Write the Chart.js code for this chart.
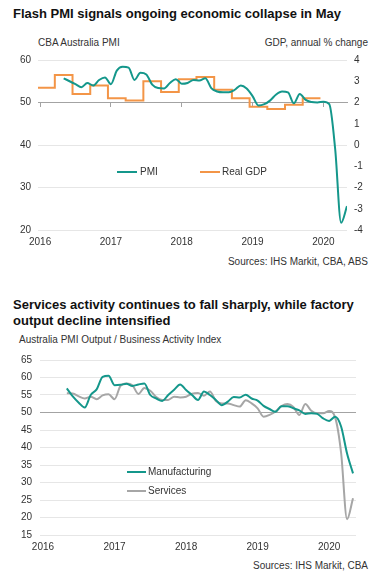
<!DOCTYPE html>
<html><head><meta charset="utf-8">
<script src="https://cdn.jsdelivr.net/npm/chart.js@4.4.1/dist/chart.umd.min.js"></script>
<style>
html,body{margin:0;padding:0;background:#fff;}
body{width:382px;height:582px;position:relative;overflow:hidden;font-family:"Liberation Sans",Arial,sans-serif;color:#333;}
.t{position:absolute;white-space:nowrap;line-height:1;}
.title{font-weight:bold;font-size:13px;color:#111;left:13px;}
.small{font-size:10px;color:#333;}
canvas{position:absolute;left:0;}
.leg{position:absolute;font-size:10px;line-height:1;height:10px;color:#333;display:flex;align-items:center;white-space:nowrap;}
.leg i{display:inline-block;height:2px;margin-right:3px;}
</style></head><body>
<div class="t title" style="top:7px">Flash PMI signals ongoing economic collapse in May</div>
<div class="t small" style="left:38px;top:38px">CBA Australia PMI</div>
<div class="t small" style="right:14px;top:38px">GDP, annual % change</div>
<canvas id="c1" width="382" height="215" style="top:40px"></canvas>
<div class="t small" style="right:14px;top:257px">Sources: IHS Markit, CBA, ABS</div>

<div class="t title" style="top:297px;line-height:15.5px">Services activity continues to fall sharply, while factory<br>output decline intensified</div>
<div class="t small" style="left:19px;top:335px">Australia PMI Output / Business Activity Index</div>
<canvas id="c2" width="382" height="215" style="top:345px"></canvas>
<div class="t small" style="right:14px;top:561px">Sources: IHS Markit, CBA</div>

<script>
// ---------- data ----------
const years = ['2016', '2017', '2018', '2019', '2020'];
const firstYear = 2016;

const pmiStartMonth = '2016-05';
const compositePMI = [55.7, 55.0, 54.3, 53.6, 54.6, 54.0, 55.3, 55.9, 54.3, 57.5, 58.4, 58.2,
  55.3, 57.0, 56.6, 54.2, 53.4, 53.3, 54.6, 55.5, 54.4, 54.6, 55.3, 55.2,
  55.7, 53.4, 52.6, 52.4, 52.4, 53.0, 54.0, 53.3, 51.5, 49.3, 49.6, 50.5,
  51.9, 52.6, 52.4, 49.8, 52.0, 50.6, 50.1, 50.0, 50.2, 49.6, 39.0, 21.7, 25.6];

const gdpQuarters = ['2016Q1', '2016Q2', '2016Q3', '2016Q4', '2017Q1', '2017Q2', '2017Q3', '2017Q4',
  '2018Q1', '2018Q2', '2018Q3', '2018Q4', '2019Q1', '2019Q2', '2019Q3', '2019Q4'];
const realGDP = [2.7, 3.3, 2.4, 2.8, 2.2, 2.1, 3.0, 2.5, 3.1, 3.2, 2.6, 2.2, 1.8, 1.7, 1.9, 2.2];

const outputStartMonth = '2016-05';
const manufacturing = [56.9, 54.6, 52.8, 51.4, 55.0, 56.6, 60.2, 60.5, 57.8, 57.9, 58.2, 57.6,
  58.0, 58.3, 55.0, 54.0, 53.3, 55.0, 56.5, 58.0, 56.4, 55.0, 53.6, 56.0,
  55.0, 53.6, 52.1, 53.1, 54.4, 54.3, 55.1, 54.0, 53.4, 51.9, 51.0, 50.2,
  51.8, 51.8, 51.2, 50.6, 49.6, 49.8, 49.6, 48.3, 47.6, 48.8, 46.0, 38.3, 32.6];
const services = [55.5, 55.4, 54.6, 54.0, 54.5, 53.8, 54.9, 55.2, 53.8, 57.6, 58.3, 57.8,
  55.3, 57.0, 56.2, 54.4, 53.6, 53.6, 54.5, 54.3, 54.5, 55.4, 55.6, 54.8,
  56.0, 53.3, 52.6, 52.6, 52.1, 51.7, 53.5, 52.6, 51.2, 48.8, 49.3, 50.3,
  51.8, 52.4, 51.6, 49.3, 52.4, 50.5, 49.8, 49.8, 50.4, 48.6, 38.5, 19.5, 25.5];

// ---------- helpers ----------
const TEAL = '#14978b', ORANGE = '#f39547', GREY = '#a6a6a6';
const GRID = '#e6e6e6', AXIS = '#a3a3a3', TXT = '#333333';
const FONT = {family: '"Liberation Sans", Arial, sans-serif', size: 10};

function monthIndex(s) { const [y, m] = s.split('-').map(Number); return (y - firstYear) * 12 + (m - 1); }
function monthlyPoints(start, arr) { const s = monthIndex(start); return arr.map((v, i) => ({x: s + i, y: v})); }
function quarterSteps(qs, arr) {
  const pts = qs.map((q, i) => {
    const y = +q.slice(0, 4), n = +q.slice(5);
    return {x: (y - firstYear) * 12 + (n - 1) * 3 - 0.5, y: arr[i]};
  });
  const last = pts[pts.length - 1];
  pts.push({x: last.x + 3, y: last.y});
  return pts;
}
function yearTicks(scale) { scale.ticks = years.map(y => ({value: (+y - firstYear) * 12})); }
const yearLabel = (v, i) => years[i];

function htmlLegend(chart, places) {
  chart.data.datasets.forEach((ds, i) => {
    const d = document.createElement('div');
    d.className = 'leg';
    d.style.left = places[i].left + 'px';
    d.style.top = places[i].top + 'px';
    const sw = document.createElement('i');
    sw.style.background = ds.borderColor;
    sw.style.width = places[i].w + 'px';
    sw.style.marginRight = places[i].gap + 'px';
    d.appendChild(sw);
    d.appendChild(document.createTextNode(ds.label));
    document.body.appendChild(d);
  });
}

Chart.defaults.font = FONT;
Chart.defaults.color = TXT;

// ---------- chart 1 ----------
const c1 = new Chart(document.getElementById('c1'), {
  type: 'line',
  data: {datasets: [
    {label: 'PMI', data: monthlyPoints(pmiStartMonth, compositePMI), borderColor: TEAL, borderWidth: 2,
      pointRadius: 0, cubicInterpolationMode: 'monotone', xAxisID: 'x', yAxisID: 'y'},
    {label: 'Real GDP', data: quarterSteps(gdpQuarters, realGDP), borderColor: ORANGE, borderWidth: 2,
      pointRadius: 0, stepped: 'before', xAxisID: 'x', yAxisID: 'y1'}
  ]},
  options: {
    responsive: false, animation: false, events: [],
    layout: {padding: {top: 20, left: 0, right: 0, bottom: 0}},
    plugins: {legend: {display: false}, tooltip: {enabled: false}},
    scales: {
      x: {type: 'linear', min: -0.35, max: 52, position: {y: 50}, afterBuildTicks: yearTicks,
        ticks: {display: false},
        grid: {drawOnChartArea: false, drawTicks: true, tickLength: 4, color: AXIS},
        border: {display: true, color: AXIS, width: 1}},
      xl: {type: 'linear', axis: 'x', min: -0.35, max: 52, position: 'bottom', afterBuildTicks: yearTicks,
        ticks: {callback: yearLabel, padding: 6, maxRotation: 0, autoSkip: false},
        grid: {display: false, drawTicks: false}, border: {display: false},
        afterFit: s => { s.height = 25; }},
      y: {type: 'linear', position: 'left', min: 20, max: 60,
        ticks: {stepSize: 10, padding: 7},
        grid: {color: c => c.tick && c.tick.value === 50 ? 'rgba(0,0,0,0)' : GRID, drawTicks: false},
        border: {display: false}, afterFit: s => { s.width = 38; }},
      y1: {type: 'linear', position: 'right', min: -4, max: 4,
        ticks: {stepSize: 1, padding: 7},
        grid: {display: false, drawTicks: false}, border: {display: false},
        afterFit: s => { s.width = 35; }}
    }
  }
});
htmlLegend(c1, [{left: 117, top: 167, w: 20, gap: 3}, {left: 200, top: 167, w: 20, gap: 2}]);

// ---------- chart 2 ----------
const c2 = new Chart(document.getElementById('c2'), {
  type: 'line',
  data: {datasets: [
    {label: 'Manufacturing', data: monthlyPoints(outputStartMonth, manufacturing), borderColor: TEAL, borderWidth: 2,
      pointRadius: 0, cubicInterpolationMode: 'monotone'},
    {label: 'Services', data: monthlyPoints(outputStartMonth, services), borderColor: GREY, borderWidth: 2,
      pointRadius: 0, cubicInterpolationMode: 'monotone'}
  ]},
  options: {
    responsive: false, animation: false, events: [],
    layout: {padding: {top: 15, left: 0, right: 26, bottom: 0}},
    plugins: {legend: {display: false}, tooltip: {enabled: false}},
    scales: {
      x: {type: 'linear', min: -0.5, max: 52.5, afterBuildTicks: yearTicks,
        ticks: {callback: yearLabel, padding: 6, maxRotation: 0, autoSkip: false},
        grid: {display: false, drawTicks: false}, border: {display: false},
        afterFit: s => { s.height = 25; }},
      y: {type: 'linear', min: 15, max: 65,
        ticks: {stepSize: 5, padding: 8},
        grid: {color: c => c.tick && c.tick.value === 50 ? AXIS : GRID, drawTicks: false},
        border: {display: false}, afterFit: s => { s.width = 40; }}
    }
  }
});
htmlLegend(c2, [{left: 127, top: 467, w: 19, gap: 2}, {left: 127, top: 486, w: 19, gap: 2}]);
</script>
</body></html>
